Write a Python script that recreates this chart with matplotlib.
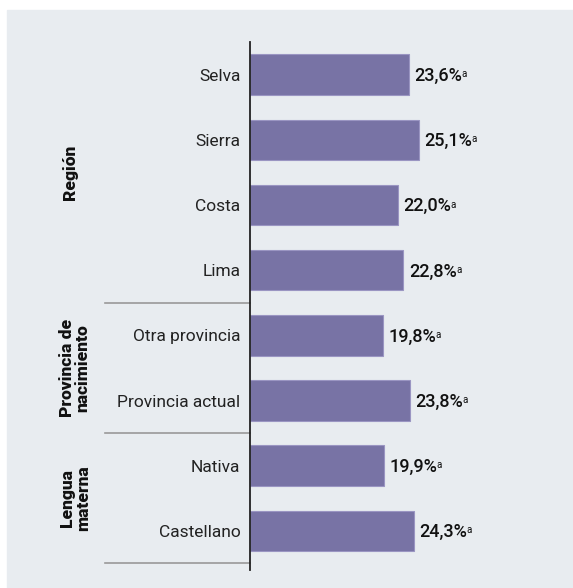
import matplotlib.pyplot as plt
from matplotlib.patches import Rectangle
from matplotlib.lines import Line2D

categories = ["Selva", "Sierra", "Costa", "Lima",
              "Otra provincia", "Provincia actual",
              "Nativa", "Castellano"]
values = [23.6, 25.1, 22.0, 22.8, 19.8, 23.8, 19.9, 24.3]
value_labels = ["23,6%", "25,1%", "22,0%", "22,8%", "19,8%", "23,8%", "19,9%", "24,3%"]
groups = ["Región", "Provincia de\nnacimiento", "Lengua\nmaterna"]
group_rows = [(0, 3), (4, 5), (6, 7)]

W, H = 573, 588
BG = "#e8ecf0"
BAR = "#7873a5"
FONT = ["Roboto", "DejaVu Sans"]

fig = plt.figure(figsize=(W / 100, H / 100), dpi=100)
fig.patch.set_facecolor("white")
fig.add_artist(Rectangle((7 / W, 0), 1 - 7 / W, 1 - 10 / H,
                         transform=fig.transFigure, color=BG, zorder=-10))

# axes placed in pixel terms
left, right, top, bottom = 250, 560, 42, 570
ax = fig.add_axes([left / W, 1 - bottom / H, (right - left) / W, (bottom - top) / H])
ax.set_facecolor("none")

ypos = list(range(len(categories)))
ax.barh(ypos, values, height=0.62, color=BAR, edgecolor="#9a95c2", linewidth=0.8)
ax.set_ylim(7.6, -0.5)
ax.set_xlim(0, (right - left) / 6.73)

ax.set_yticks(ypos)
ax.set_yticklabels(categories, fontsize=12.5, family=FONT, color="#222222")
ax.tick_params(axis="y", length=0, pad=7)
ax.set_xticks([])
for s in ["top", "right", "bottom"]:
    ax.spines[s].set_visible(False)
ax.spines["left"].set_color("#222222")
ax.spines["left"].set_linewidth(1.3)

for y, v, lab in zip(ypos, values, value_labels):
    t = ax.annotate(lab, xy=(v, y), xytext=(4, -1), textcoords="offset points",
                    va="center", ha="left", fontsize=13, family=FONT,
                    color="#111111", fontweight="medium")
    ax.annotate("a", xy=(1.0, 0.88), xycoords=t, xytext=(-0.5, 0),
                textcoords="offset points", va="top", ha="left",
                fontsize=7, family=FONT, color="#111111")

# separators and group labels
x_line = (105 - left) / (right - left)
for yb in [3.5, 5.5, 7.5]:
    ax.add_line(Line2D([x_line, 0], [yb, yb], transform=ax.get_yaxis_transform(),
                       color="#999999", linewidth=1.2, clip_on=False))

gx = [70, 75, 75]
for (a, b), g, x in zip(group_rows, groups, gx):
    ax.text((x - left) / (right - left), (a + b) / 2, g,
            transform=ax.get_yaxis_transform(), rotation=90,
            ha="center", va="center", multialignment="center",
            fontsize=12.5, fontweight="heavy", family=FONT, color="#111111",
            linespacing=0.95)

fig.savefig("out.png", dpi=100, facecolor=fig.get_facecolor())
